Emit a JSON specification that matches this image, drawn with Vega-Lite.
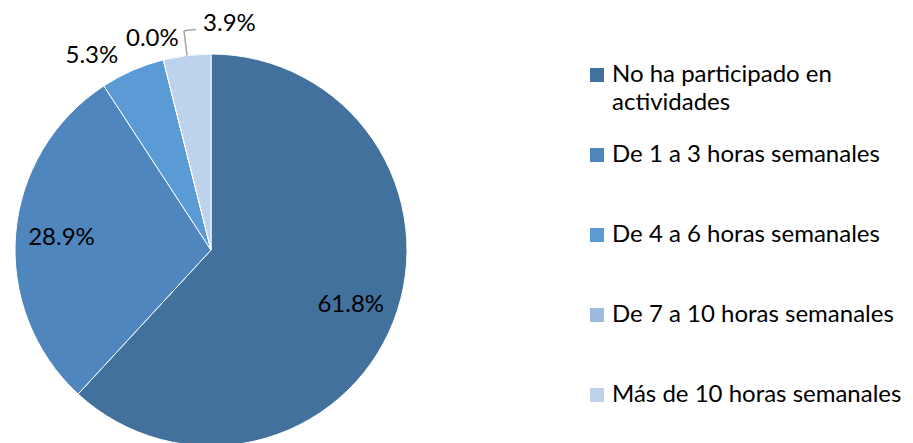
{
  "$schema": "https://vega.github.io/schema/vega-lite/v6.json",
  "padding": {"left": 1, "top": 10, "right": 0, "bottom": 0},
  "background": "white",
  "config": {"view": {"stroke": null}, "font": "Lato", "text": {"font": "Lato"}},
  "data": {"values": [
    {"cat": "No ha participado en actividades", "label": "No ha participado en\nactividades", "pct": 0.618, "ord": 1},
    {"cat": "De 1 a 3 horas semanales", "label": "De 1 a 3 horas semanales", "pct": 0.289, "ord": 2},
    {"cat": "De 4 a 6 horas semanales", "label": "De 4 a 6 horas semanales", "pct": 0.053, "ord": 3},
    {"cat": "De 7 a 10 horas semanales", "label": "De 7 a 10 horas semanales", "pct": 0.0, "ord": 4},
    {"cat": "Más de 10 horas semanales", "label": "Más de 10 horas semanales", "pct": 0.039, "ord": 5}
  ]},
  "hconcat": [
    {
      "width": 420,
      "height": 480,
      "encoding": {
        "theta": {"field": "pct", "type": "quantitative", "stack": true},
        "order": {"field": "ord", "type": "quantitative"},
        "detail": {"field": "cat", "type": "nominal"}
      },
      "layer": [
        {
          "mark": {"type": "arc", "outerRadius": 196, "stroke": "white", "strokeWidth": 1},
          "encoding": {
            "color": {"field": "cat", "type": "nominal", "legend": null,
              "scale": {"domain": ["No ha participado en actividades", "De 1 a 3 horas semanales", "De 4 a 6 horas semanales", "De 7 a 10 horas semanales", "Más de 10 horas semanales"],
                        "range": ["#42719D", "#4E86BD", "#5B9BD5", "#9DBBE0", "#BDD3EC"]}}
          }
        },
        {
          "mark": {"type": "arc", "innerRadius": 196, "outerRadius": 221, "thetaOffset": 0.1227, "fill": null, "stroke": "#A5A5A5", "strokeWidth": 1.5, "clip": true},
          "encoding": {
            "opacity": {"condition": {"test": "datum.ord === 4", "value": 1}, "value": 0}
          }
        },
        {
          "mark": {"type": "arc", "innerRadius": 220.2, "outerRadius": 221.7, "padAngle": 0.135, "thetaOffset": 0.0272, "fill": "#A5A5A5", "clip": true},
          "encoding": {
            "opacity": {"condition": {"test": "datum.ord === 5", "value": 1}, "value": 0}
          }
        },
        {
          "mark": {"type": "text", "radius": 150, "fontSize": 24, "fill": "#000000", "baseline": "middle", "align": "center", "clip": true},
          "encoding": {
            "text": {"condition": {"test": "datum.pct >= 0.1", "field": "pct", "type": "quantitative", "format": ".1%"}, "value": ""}
          }
        },
        {
          "mark": {"type": "text", "radius": 225, "dx": -29, "dy": 12, "fontSize": 24, "fill": "#000000", "baseline": "middle", "align": "center", "clip": true},
          "encoding": {
            "text": {"condition": {"test": "datum.ord === 3", "field": "pct", "type": "quantitative", "format": ".1%"}, "value": ""}
          }
        },
        {
          "mark": {"type": "text", "radius": 225, "dx": -4, "dy": 7, "fontSize": 24, "fill": "#000000", "baseline": "middle", "align": "center", "clip": true},
          "encoding": {
            "text": {"condition": {"test": "datum.ord === 4", "field": "pct", "type": "quantitative", "format": ".1%"}, "value": ""}
          }
        },
        {
          "mark": {"type": "text", "radius": 225, "dx": 46, "dy": -3, "fontSize": 24, "fill": "#000000", "baseline": "middle", "align": "center", "clip": true},
          "encoding": {
            "text": {"condition": {"test": "datum.ord === 5", "field": "pct", "type": "quantitative", "format": ".1%"}, "value": ""}
          }
        }
      ]
    },
    {
      "width": 320,
      "height": 480,
      "layer": [
        {
          "mark": {"type": "square", "size": 196, "filled": true, "opacity": 1},
          "encoding": {
            "y": {"field": "cat", "type": "nominal", "axis": null,
              "scale": {"type": "point", "padding": 0, "domain": ["No ha participado en actividades", "De 1 a 3 horas semanales", "De 4 a 6 horas semanales", "De 7 a 10 horas semanales", "Más de 10 horas semanales"], "range": [65, 385]}},
            "x": {"value": 7},
            "color": {"field": "cat", "type": "nominal", "legend": null,
              "scale": {"domain": ["No ha participado en actividades", "De 1 a 3 horas semanales", "De 4 a 6 horas semanales", "De 7 a 10 horas semanales", "Más de 10 horas semanales"],
                        "range": ["#42719D", "#4E86BD", "#5B9BD5", "#9DBBE0", "#BDD3EC"]}}
          }
        },
        {
          "mark": {"type": "text", "align": "left", "baseline": "top", "dy": -12, "fontSize": 24, "lineBreak": "\n", "lineHeight": 28, "fill": "#000000"},
          "encoding": {
            "y": {"field": "cat", "type": "nominal", "axis": null,
              "scale": {"type": "point", "padding": 0, "domain": ["No ha participado en actividades", "De 1 a 3 horas semanales", "De 4 a 6 horas semanales", "De 7 a 10 horas semanales", "Más de 10 horas semanales"], "range": [65, 385]}},
            "x": {"value": 22},
            "text": {"field": "label", "type": "nominal"}
          }
        }
      ]
    }
  ],
  "spacing": 169
}
